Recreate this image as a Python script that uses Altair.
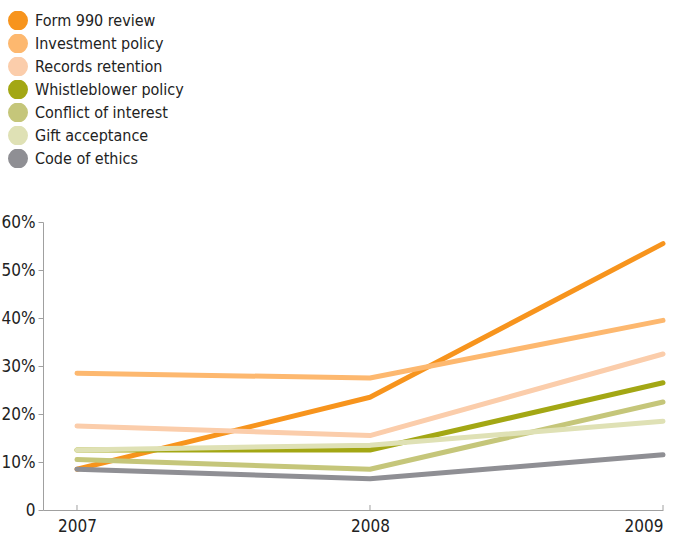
import altair as alt
import pandas as pd

# Share of organisations with each governance policy, by year (%)
years = [2007, 2008, 2009]
policies = [
    "Form 990 review",
    "Investment policy",
    "Records retention",
    "Whistleblower policy",
    "Conflict of interest",
    "Gift acceptance",
    "Code of ethics",
]
form_990 = [8.5, 23.5, 55.5]
investment = [28.5, 27.5, 39.5]
records = [17.5, 15.5, 32.5]
whistleblower = [12.5, 12.5, 26.5]
conflict = [10.5, 8.5, 22.5]
gift = [12.5, 13.5, 18.5]
ethics = [8.5, 6.5, 11.5]

colors = ["#F7941D", "#FDB86F", "#FBCDAB", "#A3A714", "#C5C67A", "#DFE1B5", "#8F8F94"]

series = [form_990, investment, records, whistleblower, conflict, gift, ethics]
rows = []
for i, (name, vals) in enumerate(zip(policies, series)):
    for y, v in zip(years, vals):
        # later legend entries are drawn first so Form 990 sits on top
        rows.append({"year": y, "share": v, "policy": name, "order": len(policies) - i})
df = pd.DataFrame(rows)

FONT = "DejaVu Sans Condensed"
x_scale = alt.Scale(domain=[2006.884, 2009], nice=False, zero=False)

x = alt.X(
    "year:Q",
    scale=x_scale,
    axis=alt.Axis(
        values=years, title=None, ticks=False, grid=False,
        labelExpr="'' + datum.value",
        labelOverlap=False, labelSeparation=0,
        labelPadding=8, domainColor="#A0A0A0", labelColor="#222222",
        labelFontSize=17, labelFont=FONT,
    ),
)
y = alt.Y(
    "share:Q",
    scale=alt.Scale(domain=[0, 60], nice=False),
    axis=alt.Axis(
        values=[0, 10, 20, 30, 40, 50, 60], title=None, grid=False,
        labelExpr="datum.value == 0 ? '0' : datum.value + '%'",
        labelOverlap=False,
        tickSize=5, tickColor="#A0A0A0", domainColor="#A0A0A0",
        labelColor="#222222", labelFontSize=17, labelFont=FONT, labelPadding=3,
    ),
)

lines = alt.Chart(df).mark_line(strokeWidth=5, strokeCap="round", strokeJoin="round").encode(
    x=x,
    y=y,
    color=alt.Color(
        "policy:N",
        scale=alt.Scale(domain=policies, range=colors),
        legend=alt.Legend(
            title=None, orient="none", legendX=-43, legendY=-211,
            symbolType="circle", symbolSize=100, symbolStrokeWidth=10,
            labelFontSize=16, labelFont=FONT, labelColor="#222222",
            clipHeight=19, rowPadding=4, labelOffset=7, symbolOffset=8,
        ),
    ),
    order=alt.Order("order:Q"),
    detail="policy:N",
)

# x-axis ticks point up into the plot from the baseline
tick_df = pd.DataFrame({"year": years})
x_ticks = alt.Chart(tick_df).mark_rule(color="#A0A0A0", strokeWidth=1).encode(
    x=x,
    y=alt.value(283),
    y2=alt.value(288),
)

chart = alt.layer(lines, x_ticks).properties(
    width=620,
    height=288,
    autosize=alt.AutoSizeParams(type="none"),
    padding={"left": 43, "top": 222, "right": 32, "bottom": 27},
).configure_view(stroke=None).configure_axis(labelOverlap=False)

chart.save("out.html", embed_options={"renderer": "svg", "actions": False})
